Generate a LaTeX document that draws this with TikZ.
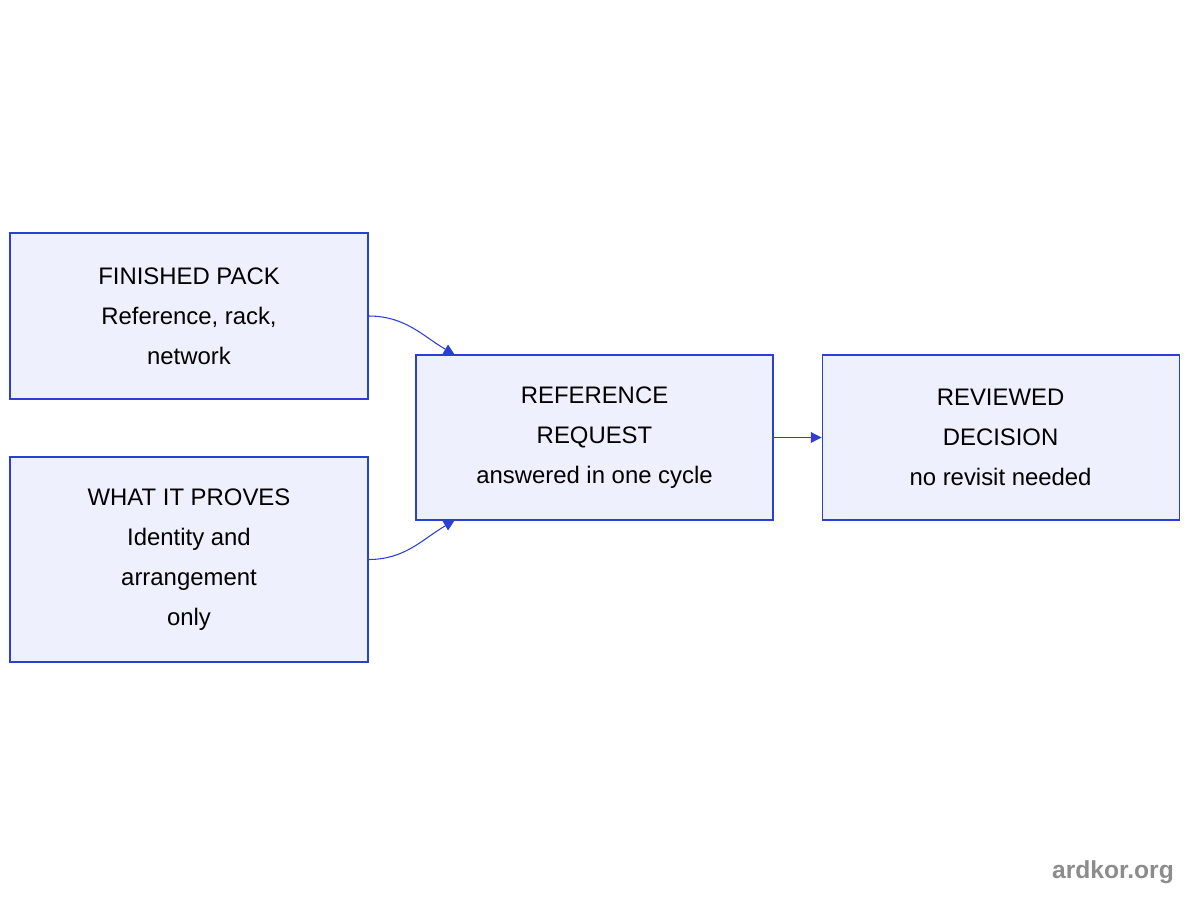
\documentclass[tikz,border=0pt]{standalone}
\usepackage{fontspec}
\setmainfont{Liberation Sans}
\usetikzlibrary{positioning, arrows.meta, calc}
\definecolor{boxfill}{HTML}{EEF0FD}
\definecolor{boxline}{HTML}{2B3FD6}
\begin{document}
\begin{tikzpicture}[
    box/.style={draw=boxline, fill=boxfill, line width=0.6pt, minimum width=7.16cm,
      align=center, font=\fontsize{13.6}{22.7}\selectfont, inner sep=0pt},
    link/.style={draw=boxline, line width=0.6pt, -{Triangle[length=6pt, width=6pt]}}]
    \useasboundingbox (0,0) rectangle (24,18);

    \node[box, minimum height=3.32cm] (pack) at (3.78,11.68) {FINISHED PACK\\Reference, rack,\\network};
    \node[box, minimum height=4.1cm] (proves) at (3.78,6.81) {WHAT IT PROVES\\Identity and\\arrangement\\only};
    \node[box, minimum width=7.14cm, minimum height=3.3cm] (request) at (11.89,9.25) {REFERENCE\\REQUEST\\answered in one cycle};
    \node[box, minimum width=7.14cm, minimum height=3.3cm, right=0.96cm of request] (decision) {REVIEWED\\DECISION\\no revisit needed};

    \coordinate (intop) at ($(request.north west)+(0.78,0)$);
    \coordinate (inbot) at ($(request.south west)+(0.78,0)$);

    \draw[link] (pack.east) to[out=0, in=150] (intop);
    \draw[link] (proves.east) to[out=0, in=-150] (inbot);
    \draw[link] (request) -- (decision);

    \node[text=gray!90, font=\bfseries\fontsize{14}{16}\selectfont, anchor=east] (mark) at (23.6,0.56) {ardkor.org};
\end{tikzpicture}
\end{document}
